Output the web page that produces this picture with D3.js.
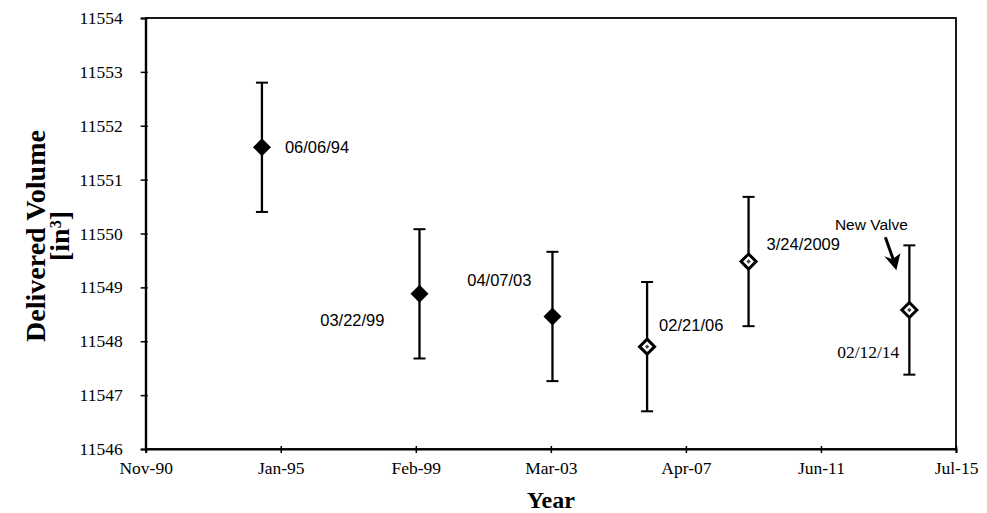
<!DOCTYPE html>
<html>
<head>
<meta charset="utf-8">
<script src="https://cdn.jsdelivr.net/npm/d3@7"></script>
<style>
  html, body { margin: 0; padding: 0; background: #fff; }
  svg { display: block; }
</style>
</head>
<body>
<div id="chart"></div>
<script>
// Data
const sampleDates = ["1994-06-06", "1999-03-22", "2003-04-07", "2006-02-21", "2009-03-24", "2014-02-12"];
const volumes = [11551.6, 11548.88, 11548.46, 11547.9, 11549.48, 11548.58];
const errors = [1.2, 1.2, 1.2, 1.2, 1.2, 1.2];
const pointLabels = ["06/06/94", "03/22/99", "04/07/03", "02/21/06", "3/24/2009", "02/12/14"];
const solidMarker = [true, true, true, false, false, false];
const xTickDates = ["1990-11-23", "1995-01-01", "1999-02-09", "2003-03-20", "2007-04-28", "2011-06-06", "2015-07-15"];
const yTicks = [11546, 11547, 11548, 11549, 11550, 11551, 11552, 11553, 11554];

// label placement relative to each point (dx, dy, anchor, font)
const labelPlacement = [
  { dx: 23, dy: 0, anchor: "start", serif: false },
  { dx: -35, dy: 26, anchor: "end", serif: false },
  { dx: -21, dy: -36, anchor: "end", serif: false },
  { dx: 12, dy: -21, anchor: "start", serif: false },
  { dx: 18, dy: -17, anchor: "start", serif: false },
  { dx: -10, dy: 42, anchor: "end", serif: true }
];

const SERIF = "'Liberation Serif', 'DejaVu Serif', serif";
const SANS = "'Liberation Sans', Arial, sans-serif";

const W = 987, H = 513;
const plot = { left: 145.7, right: 956, top: 18, bottom: 449 };

const parse = d3.utcParse("%Y-%m-%d");
const points = sampleDates.map((d, i) => ({
  date: parse(d),
  value: volumes[i],
  err: errors[i],
  label: pointLabels[i],
  solid: solidMarker[i],
  place: labelPlacement[i]
}));

const x = d3.scaleUtc()
  .domain([parse(xTickDates[0]), parse(xTickDates[xTickDates.length - 1])])
  .range([plot.left, plot.right]);

const y = d3.scaleLinear()
  .domain([yTicks[0], yTicks[yTicks.length - 1]])
  .range([plot.bottom, plot.top]);

const svg = d3.select("#chart")
  .append("svg")
  .attr("width", W)
  .attr("height", H)
  .attr("viewBox", `0 0 ${W} ${H}`);

// frame
svg.append("rect")
  .attr("x", plot.left)
  .attr("y", plot.top)
  .attr("width", plot.right - plot.left)
  .attr("height", plot.bottom - plot.top)
  .attr("fill", "none")
  .attr("stroke", "#000")
  .attr("stroke-width", 1.8);

// axes
const xAxis = svg.append("g")
  .attr("transform", `translate(0,${plot.bottom})`)
  .call(d3.axisBottom(x)
    .tickValues(xTickDates.map(parse))
    .tickFormat(d3.utcFormat("%b-%y"))
    .tickSize(4)
    .tickPadding(9));

xAxis.select(".domain").attr("stroke-width", 2);
xAxis.selectAll(".tick line").attr("y1", -3).attr("stroke-width", 1.5);

const yAxis = svg.append("g")
  .attr("transform", `translate(${plot.left},0)`)
  .call(d3.axisLeft(y)
    .tickValues(yTicks)
    .tickFormat(d3.format("d"))
    .tickSize(5)
    .tickPadding(18));

yAxis.select(".domain").attr("stroke-width", 2);
yAxis.selectAll(".tick line").attr("x1", 2).attr("stroke-width", 1.5);

svg.selectAll(".tick text")
  .attr("font-family", SERIF)
  .attr("font-size", 17.5)
  .attr("fill", "#000");

// error bars
const bars = svg.append("g").attr("class", "error-bars");
const capHalf = 6;

bars.selectAll("line.stem")
  .data(points)
  .join("line")
  .attr("class", "stem")
  .attr("x1", (d) => x(d.date))
  .attr("x2", (d) => x(d.date))
  .attr("y1", (d) => y(d.value + d.err))
  .attr("y2", (d) => y(d.value - d.err))
  .attr("stroke", "#000")
  .attr("stroke-width", 2.3);

["top", "bottom"].forEach((side) => {
  bars.selectAll(`line.cap-${side}`)
    .data(points)
    .join("line")
    .attr("class", `cap-${side}`)
    .attr("x1", (d) => x(d.date) - capHalf)
    .attr("x2", (d) => x(d.date) + capHalf)
    .attr("y1", (d) => y(side === "top" ? d.value + d.err : d.value - d.err))
    .attr("y2", (d) => y(side === "top" ? d.value + d.err : d.value - d.err))
    .attr("stroke", "#000")
    .attr("stroke-width", 2);
});

// diamond markers
const diamond = (hw, hh) => `M0,${-hh}L${hw},0L0,${hh}L${-hw},0Z`;

const markers = svg.append("g").attr("class", "markers")
  .selectAll("g")
  .data(points)
  .join("g")
  .attr("transform", (d) => `translate(${x(d.date)},${y(d.value)})`);

markers.append("path")
  .attr("d", (d) => d.solid ? diamond(9, 9) : diamond(7.5, 7.5))
  .attr("fill", (d) => d.solid ? "#000" : "#fff")
  .attr("stroke", "#000")
  .attr("stroke-width", (d) => d.solid ? 0 : 3);

markers.filter((d) => !d.solid)
  .append("path")
  .attr("d", diamond(2.2, 2.2))
  .attr("fill", "#444");

// point labels
svg.append("g").attr("class", "point-labels")
  .selectAll("text")
  .data(points)
  .join("text")
  .attr("x", (d) => x(d.date) + d.place.dx)
  .attr("y", (d) => y(d.value) + d.place.dy)
  .attr("dy", "0.35em")
  .attr("text-anchor", (d) => d.place.anchor)
  .attr("font-family", (d) => d.place.serif ? SERIF : SANS)
  .attr("font-size", (d) => d.place.serif ? 17.5 : 16.5)
  .attr("fill", "#000")
  .text((d) => d.label);

// "New Valve" annotation with arrow, anchored to the last sample
const last = points[points.length - 1];
const ax = x(last.date);
const ay = y(last.value + last.err);

svg.append("text")
  .attr("x", ax - 38)
  .attr("y", ay - 21)
  .attr("dy", "0.35em")
  .attr("text-anchor", "middle")
  .attr("font-family", SANS)
  .attr("font-size", 15.5)
  .attr("fill", "#000")
  .text("New Valve");

svg.append("path")
  .attr("d", `M${ax - 24},${ay - 8}L${ax - 14},${ay + 20}`)
  .attr("stroke", "#000")
  .attr("stroke-width", 3)
  .attr("fill", "none");

svg.append("path")
  .attr("d", `M${ax - 13},${ay + 25}L${ax - 25},${ay + 11}L${ax - 17},${ay + 14}L${ax - 9},${ay + 8}Z`)
  .attr("fill", "#000");

// axis titles
const yTitle = svg.append("text")
  .attr("transform", `translate(35,236) rotate(-90)`)
  .attr("text-anchor", "middle")
  .attr("font-family", SERIF)
  .attr("font-weight", "bold")
  .attr("font-size", 28)
  .attr("fill", "#000");

yTitle.append("tspan")
  .attr("x", 0)
  .attr("dy", "0.35em")
  .text("Delivered Volume");

const unit = yTitle.append("tspan")
  .attr("x", 0)
  .attr("dy", "0.88em")
  .text("[in");
unit.append("tspan").attr("baseline-shift", "super").attr("font-size", 16).text("3");
yTitle.append("tspan").text("]");

svg.append("text")
  .attr("x", (plot.left + plot.right) / 2)
  .attr("y", 500)
  .attr("dy", "0.35em")
  .attr("text-anchor", "middle")
  .attr("font-family", SERIF)
  .attr("font-weight", "bold")
  .attr("font-size", 24)
  .attr("fill", "#000")
  .text("Year");
</script>
</body>
</html>
